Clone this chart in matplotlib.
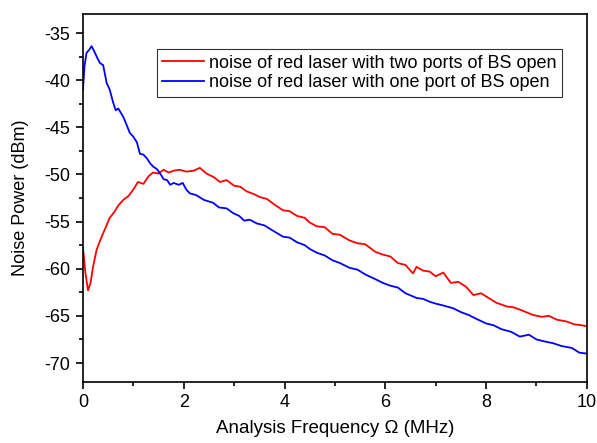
import matplotlib
matplotlib.use("Agg")
import matplotlib.pyplot as plt
from matplotlib.ticker import MultipleLocator

plt.rcParams['font.family'] = ['Liberation Sans', 'DejaVu Sans']
plt.rcParams['axes.unicode_minus'] = False

# red laser, two ports of BS open
red_x = [0, 0.05, 0.1, 0.15, 0.2, 0.27, 0.34, 0.42, 0.53, 0.62, 0.7, 0.8, 0.9, 1.0,
         1.09, 1.2, 1.3, 1.39, 1.5, 1.6, 1.7, 1.8, 1.92, 2.05, 2.2, 2.32, 2.45, 2.6,
         2.72, 2.85, 3.0, 3.12, 3.25, 3.4, 3.51, 3.65, 3.8, 3.97, 4.1, 4.25, 4.4, 4.5,
         4.64, 4.8, 4.95, 5.1, 5.29, 5.45, 5.6, 5.8, 5.95, 6.1, 6.25, 6.4, 6.55, 6.62,
         6.75, 6.88, 7.0, 7.15, 7.3, 7.45, 7.6, 7.75, 7.9, 8.05, 8.2, 8.41, 8.55, 8.7,
         8.93, 9.1, 9.25, 9.4, 9.6, 9.75, 9.9, 10.0]
red_y = [-57.8, -60.5, -62.3, -61.5, -59.8, -58.0, -57.0, -56.0, -54.6, -54.0, -53.3,
         -52.7, -52.3, -51.6, -50.8, -51.0, -50.2, -49.8, -49.9, -49.5, -49.8, -49.6,
         -49.5, -49.7, -49.6, -49.3, -49.9, -50.3, -50.8, -50.6, -51.2, -51.3, -51.8,
         -52.1, -52.4, -52.6, -53.2, -53.8, -53.9, -54.4, -54.6, -55.1, -55.5, -55.6,
         -56.3, -56.4, -57.0, -57.3, -57.4, -58.2, -58.5, -58.7, -59.4, -59.6, -60.5,
         -59.8, -60.2, -60.3, -60.8, -60.4, -61.5, -61.4, -61.9, -62.8, -62.6, -63.1,
         -63.6, -64.0, -64.1, -64.4, -64.9, -65.1, -65.0, -65.4, -65.6, -65.9, -66.0,
         -66.1]

# red laser, one port of BS open
blue_x = [0, 0.03, 0.07, 0.12, 0.17, 0.22, 0.28, 0.34, 0.4, 0.47, 0.53, 0.6, 0.65, 0.7,
          0.8, 0.87, 0.93, 1.0, 1.07, 1.13, 1.2, 1.27, 1.33, 1.4, 1.46, 1.52, 1.6, 1.67,
          1.73, 1.8, 1.9, 1.98, 2.05, 2.12, 2.25, 2.4, 2.58, 2.7, 2.85, 2.98, 3.1, 3.2,
          3.31, 3.45, 3.6, 3.75, 3.97, 4.1, 4.25, 4.4, 4.5, 4.64, 4.8, 4.95, 5.1, 5.29,
          5.45, 5.6, 5.8, 5.95, 6.1, 6.25, 6.4, 6.62, 6.75, 6.88, 7.0, 7.15, 7.35, 7.5,
          7.65, 7.8, 8.0, 8.15, 8.3, 8.5, 8.67, 8.85, 9.0, 9.15, 9.33, 9.5, 9.7, 9.85, 10.0]
blue_y = [-41.0, -38.5, -37.1, -36.8, -36.4, -36.9, -37.6, -38.2, -38.4, -40.3, -41.0,
          -42.4, -43.2, -43.0, -43.9, -44.8, -45.6, -46.0, -46.6, -47.8, -47.9, -48.3,
          -48.8, -49.2, -49.4, -49.8, -50.5, -50.6, -51.1, -50.9, -51.1, -50.9, -51.6,
          -52.0, -52.2, -52.7, -53.0, -53.5, -53.6, -54.1, -54.4, -54.9, -54.8, -55.2,
          -55.4, -55.9, -56.6, -56.7, -57.2, -57.5, -57.9, -58.3, -58.6, -59.1, -59.4,
          -59.9, -60.1, -60.6, -61.1, -61.5, -61.8, -62.0, -62.6, -63.1, -63.2, -63.5,
          -63.7, -63.9, -64.2, -64.6, -64.9, -65.3, -65.8, -66.0, -66.4, -66.7, -67.2,
          -67.0, -67.5, -67.7, -67.9, -68.2, -68.4, -68.9, -69.0]

labels = ['noise of red laser with two ports of BS open',
          'noise of red laser with one port of BS open']

fig = plt.figure(figsize=(5.97, 4.43), dpi=100)
ax = fig.add_axes([0.139, 0.138, 0.844, 0.830])
ax.plot(red_x, red_y, color='#ff0000', lw=1.3, label=labels[0])
ax.plot(blue_x, blue_y, color='#0000ff', lw=1.3, label=labels[1])

ax.set_xlim(0, 10)
ax.set_ylim(-72, -33)
ax.xaxis.set_major_locator(MultipleLocator(2))
ax.xaxis.set_minor_locator(MultipleLocator(1))
ax.yaxis.set_major_locator(MultipleLocator(5))
ax.yaxis.set_minor_locator(MultipleLocator(2.5))
ax.tick_params(which='both', direction='out', top=False, right=False, width=1.2,
               labelsize=13)
ax.tick_params(which='major', length=5, pad=4)
ax.tick_params(which='minor', length=3)
for s in ax.spines.values():
    s.set_linewidth(1.2)

ax.set_xlabel('Analysis Frequency \u03a9 (MHz)', fontsize=13.5, labelpad=6)
ax.set_ylabel('Noise Power (dBm)', fontsize=13, labelpad=11)

leg = ax.legend(loc='upper left', bbox_to_anchor=(0.147, 0.905), borderaxespad=0,
                fontsize=13, fancybox=False, edgecolor='#333333', handlelength=2.3,
                handletextpad=0.3, borderpad=0.3, labelspacing=0.15, framealpha=1)
leg.get_frame().set_linewidth(0.8)

fig.savefig('out.png', dpi=100)
